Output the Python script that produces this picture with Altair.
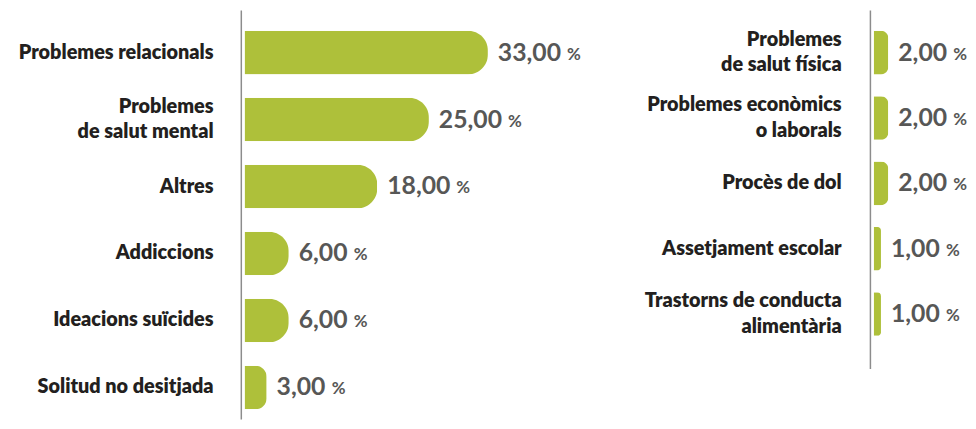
import altair as alt
import pandas as pd

# Left panel
left_categories = [
    "Problemes relacionals",
    "Problemes|de salut mental",
    "Altres",
    "Addiccions",
    "Ideacions suïcides",
    "Solitud no desitjada",
]
left_values = [33.0, 25.0, 18.0, 6.0, 6.0, 3.0]

# Right panel
right_categories = [
    "Problemes|de salut física",
    "Problemes econòmics|o laborals",
    "Procès de dol",
    "Assetjament escolar",
    "Trastorns de conducta|alimentària",
]
right_values = [2.0, 2.0, 2.0, 1.0, 1.0]

BAR = "#aec03a"
LABEL_FONT = "Lato"
PX_PER_UNIT = 7.44


def make_df(cats, vals):
    return pd.DataFrame({
        "cat": cats,
        "value": vals,
        "label": [f"{v:.2f}".replace(".", ",") for v in vals],
    })


def panel(df, cats, width, height, xmax, pad_outer, pad_inner, align, extent, label_pad):
    base = alt.Chart(df).encode(
        y=alt.Y(
            "cat:N",
            sort=cats,
            scale=alt.Scale(paddingInner=pad_inner, paddingOuter=pad_outer, align=align),
            axis=alt.Axis(
                title=None,
                ticks=False,
                grid=False,
                domain=True,
                domainColor="#8c8c8c",
                domainWidth=1.5,
                labelExpr="split(datum.label, '|')",
                labelFont=LABEL_FONT,
                labelFontWeight=800,
                labelFontSize=20,
                labelColor="#231f20",
                labelLineHeight=26,
                labelOffset={
                    "condition": {"test": "indexof(datum.value, '|') >= 0", "value": -13},
                    "value": 0,
                },
                labelPadding=label_pad,
                labelLimit=400,
                minExtent=extent,
                maxExtent=extent,
            ),
        )
    )
    xscale = alt.Scale(domain=[-0.5, xmax], nice=False, zero=False)
    bars = base.mark_bar(color=BAR, cornerRadiusEnd=20, orient="horizontal").encode(
        x=alt.X("value:Q", scale=xscale, axis=None),
    )
    nums = base.mark_text(
        align="left", baseline="middle", dx=10, font=LABEL_FONT, fontWeight="bold",
        fontSize=25, color="#575756",
    ).encode(
        x=alt.X("value:Q", scale=xscale, axis=None),
        text="label:N",
    )
    pct = base.mark_text(
        align="left", baseline="middle", dy=2, font=LABEL_FONT, fontWeight="bold",
        fontSize=17, color="#575756",
    ).transform_calculate(
        px=f"datum.value + (10 + (length(datum.label) - 1) * 14.2 + 6 + 7) / {PX_PER_UNIT}",
        pc="'%'",
    ).encode(
        x=alt.X("px:Q", scale=xscale, axis=None),
        text="pc:N",
    )
    return alt.layer(bars, nums, pct).properties(width=width, height=height)


left = panel(make_df(left_categories, left_values), left_categories,
             335, 413, 44.5, 0.23, 0.35, 0.68, 235, 28)
right = panel(make_df(right_categories, right_values), right_categories,
              93, 362, 12.0, 0.41, 0.333, 0.39, 238, 29)

chart = alt.hconcat(left, right, spacing=53).properties(
    padding=0, background="white"
).configure_view(stroke=None)

chart.save("out.html", embed_options={"renderer": "svg", "actions": False})
